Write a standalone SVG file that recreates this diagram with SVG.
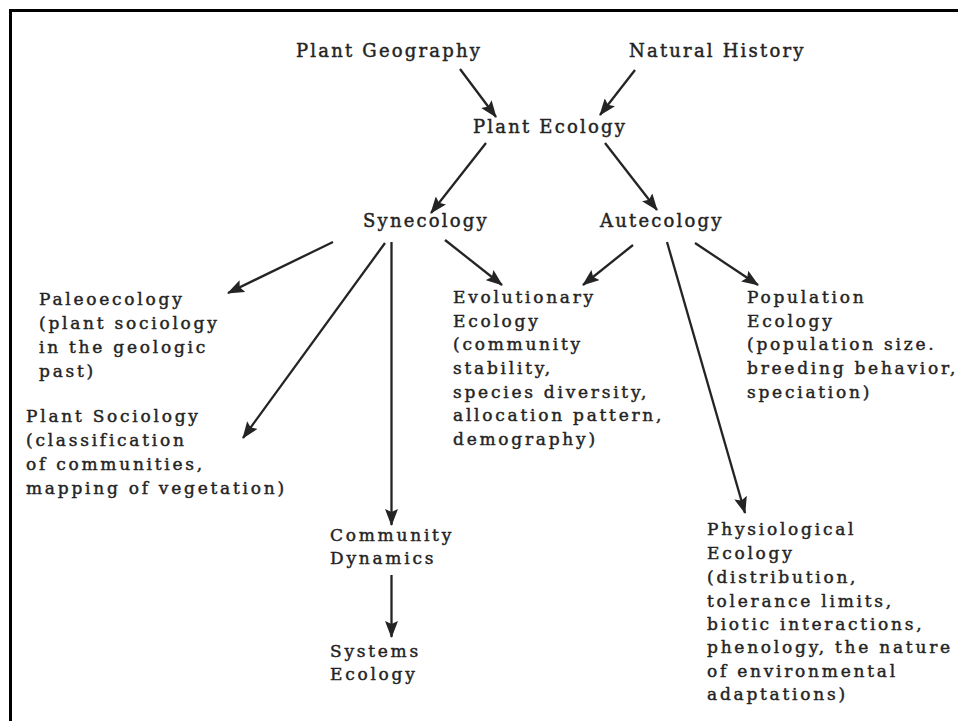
<svg xmlns="http://www.w3.org/2000/svg" width="958" height="721" viewBox="0 0 958 721">
<style>
.t{font-family:"DejaVu Serif","Liberation Serif",serif;fill:#242424;stroke:#242424;stroke-width:0.45px;}
.top{font-size:18px;letter-spacing:2.2px;}
.low{font-size:17px;letter-spacing:2.75px;}
.c line{stroke:#242424;stroke-width:2.3;marker-end:url(#ah);}
</style>
<defs>
<marker id="ah" viewBox="0 0 17 13" refX="16" refY="6.5" markerWidth="17" markerHeight="13" markerUnits="userSpaceOnUse" orient="auto">
<path d="M0,0 L17,6.5 L0,13 L3,6.5 z" fill="#242424"/>
</marker>
</defs>
<rect width="958" height="721" fill="#ffffff"/>
<path d="M10.5,721 V10.5 H958" fill="none" stroke="#000" stroke-width="3"/>
<g class="c" id="connectors">
<line x1="460" y1="69" x2="496" y2="117"/>
<line x1="635" y1="70" x2="600" y2="115"/>
<line x1="486" y1="143" x2="431" y2="213"/>
<line x1="605" y1="143" x2="657" y2="210"/>
<line x1="333" y1="242" x2="228" y2="293"/>
<line x1="385" y1="243" x2="243" y2="438"/>
<line x1="391.5" y1="242" x2="391.5" y2="525"/>
<line x1="445" y1="240" x2="502" y2="285"/>
<line x1="633" y1="245" x2="583" y2="285"/>
<line x1="667" y1="242" x2="745" y2="513"/>
<line x1="695" y1="243" x2="758" y2="285"/>
<line x1="391.5" y1="575" x2="391.5" y2="637"/>
</g>
<g id="plant-geography"><text class="t top" x="296" y="57">Plant Geography</text></g>
<g id="natural-history"><text class="t top" x="629" y="57">Natural History</text></g>
<g id="plant-ecology"><text class="t top" x="473" y="133">Plant Ecology</text></g>
<g id="synecology"><text class="t top" x="363" y="227">Synecology</text></g>
<g id="autecology"><text class="t top" x="600" y="227">Autecology</text></g>
<g id="paleoecology"><text class="t low">
<tspan x="39" y="305">Paleoecology</tspan>
<tspan x="39" y="329">(plant sociology</tspan>
<tspan x="39" y="353">in the geologic</tspan>
<tspan x="39" y="377">past)</tspan>
</text></g>
<g id="plant-sociology"><text class="t low">
<tspan x="26" y="422">Plant Sociology</tspan>
<tspan x="26" y="446">(classification</tspan>
<tspan x="26" y="470">of communities,</tspan>
<tspan x="26" y="494">mapping of vegetation)</tspan>
</text></g>
<g id="evolutionary-ecology"><text class="t low">
<tspan x="453" y="303">Evolutionary</tspan>
<tspan x="453" y="327">Ecology</tspan>
<tspan x="453" y="350">(community</tspan>
<tspan x="453" y="374">stability,</tspan>
<tspan x="453" y="398">species diversity,</tspan>
<tspan x="453" y="421">allocation pattern,</tspan>
<tspan x="453" y="445">demography)</tspan>
</text></g>
<g id="population-ecology"><text class="t low">
<tspan x="747" y="303">Population</tspan>
<tspan x="747" y="327">Ecology</tspan>
<tspan x="747" y="350">(population size.</tspan>
<tspan x="747" y="374">breeding behavior,</tspan>
<tspan x="747" y="398">speciation)</tspan>
</text></g>
<g id="community-dynamics"><text class="t low">
<tspan x="330" y="541">Community</tspan>
<tspan x="330" y="564">Dynamics</tspan>
</text></g>
<g id="systems-ecology"><text class="t low">
<tspan x="330" y="657">Systems</tspan>
<tspan x="330" y="680">Ecology</tspan>
</text></g>
<g id="physiological-ecology"><text class="t low">
<tspan x="707" y="535">Physiological</tspan>
<tspan x="707" y="559">Ecology</tspan>
<tspan x="707" y="583">(distribution,</tspan>
<tspan x="707" y="607">tolerance limits,</tspan>
<tspan x="707" y="630">biotic interactions,</tspan>
<tspan x="707" y="653">phenology, the nature</tspan>
<tspan x="707" y="677">of environmental</tspan>
<tspan x="707" y="700">adaptations)</tspan>
</text></g>
</svg>
